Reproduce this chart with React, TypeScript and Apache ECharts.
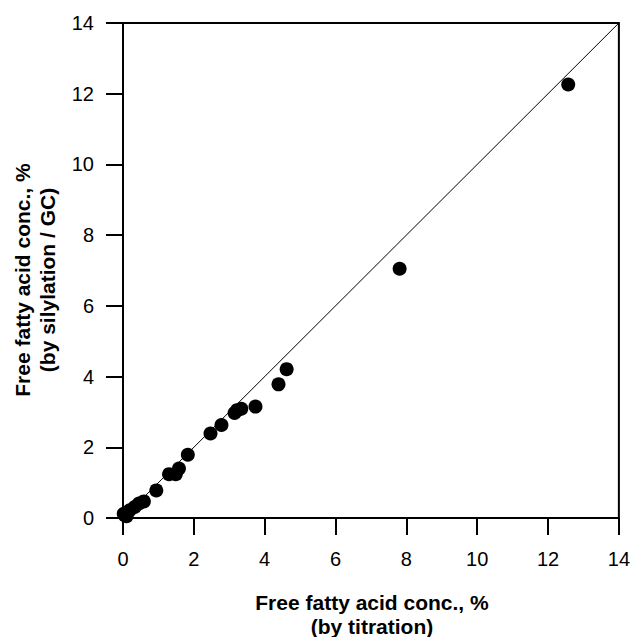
import React, { useEffect, useRef } from "react";
import * as echarts from "echarts";

const titrationValues = [0.02, 0.05, 0.1, 0.19, 0.33, 0.45, 0.59, 0.94, 1.3, 1.49, 1.58, 1.83, 2.47, 2.78, 3.15, 3.22, 3.34, 3.74, 4.39, 4.62, 7.81, 12.57];
const gcValues = [0.12, 0.08, 0.05, 0.22, 0.31, 0.41, 0.47, 0.78, 1.24, 1.24, 1.4, 1.79, 2.39, 2.63, 2.97, 3.05, 3.09, 3.15, 3.78, 4.21, 7.05, 12.26];
const identityLine = [[0, 0], [14, 14]];
const xTitleLines = ["Free fatty acid conc., %", "(by titration)"];
const yTitleLines = ["Free fatty acid conc., %", "(by silylation / GC)"];

const FONT = "'Liberation Sans', Arial, Helvetica, sans-serif";

export default function App() {
  const ref = useRef<HTMLDivElement>(null);
  useEffect(() => {
    if (!ref.current) return;
    const chart = echarts.init(ref.current, undefined, { renderer: "svg" });
    const axisCommon = {
      min: 0,
      max: 14,
      interval: 2,
      axisLine: { show: true, onZero: false, lineStyle: { color: "#000", width: 2 } },
      axisTick: { show: true, inside: false, length: 17, lineStyle: { color: "#000", width: 2 } },
      splitLine: { show: false },
    };
    chart.setOption({
      animation: false,
      backgroundColor: "#fff",
      grid: { left: 123, right: 14, top: 23, bottom: 119, show: true, borderColor: "#000", borderWidth: 2 },
      xAxis: {
        type: "value",
        ...axisCommon,
        axisLabel: { color: "#000", fontSize: 20, fontFamily: FONT, margin: 31 },
      },
      yAxis: {
        type: "value",
        ...axisCommon,
        axisLabel: { color: "#000", fontSize: 20, fontFamily: FONT, margin: 29 },
      },
      series: [
        {
          type: "line",
          data: identityLine,
          symbol: "none",
          lineStyle: { color: "#000", width: 1 },
          silent: true,
          z: 2,
        },
        {
          type: "scatter",
          data: titrationValues.map((x, i) => [x, gcValues[i]]),
          symbol: "circle",
          symbolSize: 14,
          itemStyle: { color: "#000", opacity: 1 },
          z: 3,
        },
      ],
      graphic: [
        {
          type: "text",
          x: 372,
          y: 602,
          style: { text: xTitleLines[0], font: `bold 21px ${FONT}`, fill: "#000", align: "center", verticalAlign: "middle" },
        },
        {
          type: "text",
          x: 372,
          y: 626,
          style: { text: xTitleLines[1], font: `bold 21px ${FONT}`, fill: "#000", align: "center", verticalAlign: "middle" },
        },
        {
          type: "text",
          x: 22,
          y: 280,
          rotation: Math.PI / 2,
          style: { text: yTitleLines[0], font: `bold 21px ${FONT}`, fill: "#000", align: "center", verticalAlign: "middle" },
        },
        {
          type: "text",
          x: 47,
          y: 280,
          rotation: Math.PI / 2,
          style: { text: yTitleLines[1], font: `bold 21px ${FONT}`, fill: "#000", align: "center", verticalAlign: "middle" },
        },
      ],
    });
    return () => chart.dispose();
  }, []);
  return <div ref={ref} style={{ width: 633, height: 637, position: "absolute", left: 0, top: 0 }} />;
}
